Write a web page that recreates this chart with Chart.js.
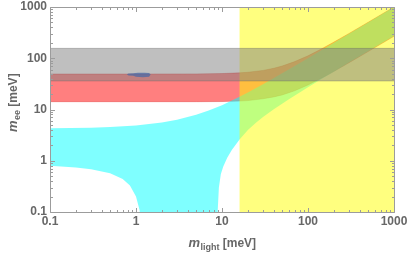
<!DOCTYPE html>
<html><head><meta charset="utf-8">
<script src="https://cdn.jsdelivr.net/npm/chart.js@4.4.1/dist/chart.umd.min.js"></script>
<style>html,body{margin:0;padding:0;background:#fff;}canvas{display:block;}</style>
</head><body>
<canvas id="c" width="409" height="253" style="width:409px;height:253px"></canvas>
<script>
// ---- axis ticks ----
const xTickValues = [0.1, 1, 10, 100, 1000];
const xTickLabels = ['0.1', '1', '10', '100', '1000'];
const yTickValues = [0.1, 1, 10, 100, 1000];
const yTickLabels = ['0.1', '1', '10', '100', '1000'];

// ---- normal ordering band (cyan), m_light [meV] -> m_ee [meV] ----
const noUpperM   = [0.05, 0.1, 0.3, 0.5, 1, 2, 3, 5, 7, 10, 13, 16, 20, 30, 50, 70, 100, 200, 500, 1000, 1200];
const noUpperMee = [4.25, 4.29, 4.41, 4.55, 4.88, 5.57, 6.3, 7.86, 9.51, 12.1, 14.9, 17.7, 21.5, 31.1, 50.8, 70.6, 100.4, 200.2, 500, 1000, 1200];
const noLowerM   = [0.05, 0.1, 0.2, 0.3, 0.5, 0.7, 0.85, 1.0, 1.1, 1.15, 1.2,
                    8.8, 8.9, 9.2, 9.7, 10.35, 11.5, 13, 16, 20, 25, 30, 40, 50, 60, 80, 100, 150, 200, 300, 500, 700, 1000, 1200];
const noLowerMee = [0.84, 0.8, 0.74, 0.68, 0.57, 0.44, 0.33, 0.2, 0.11, 0.06, 0.001,
                    0.001, 0.1, 0.3, 0.55, 0.77, 1.15, 1.62, 2.6, 4.0, 5.6, 7.1, 10.1, 13.0, 15.8, 21.4, 27.1, 41.0, 54.8, 82.4, 137, 192, 272, 326];

// ---- inverted ordering band (red) ----
const ioUpperM   = [0.05, 1, 5, 10, 16, 20, 30, 40, 50, 70, 100, 150, 200, 300, 500, 1000, 1200];
const ioUpperMee = [49.3, 49.3, 49.5, 50.3, 51.9, 53.3, 57.9, 63.8, 70.5, 86.0, 111.8, 158.2, 206.4, 304.3, 502.6, 1001.3, 1201];
const ioLowerM   = [0.05, 1, 5, 10, 16, 20, 30, 40, 50, 70, 100, 150, 200, 300, 500, 1000, 1200];
const ioLowerMee = [14.2, 14.2, 14.2, 14.3, 14.6, 14.9, 16.2, 17.6, 19.2, 23.2, 30.1, 42.6, 55.5, 81.8, 135, 269, 323];

// ---- excluded m_light region (yellow) and experimental m_ee band (gray) ----
const yellowFromM = 16;
const grayBandMee = [36, 156];

// ---- small fit region (blue) ----
const blobM   = [0.78, 0.82, 0.93, 1.05, 1.25, 1.42, 1.48, 1.42, 1.2, 1.0, 0.93, 0.82, 0.78];
const blobMee = [48.5, 50.5, 51.0, 52.0, 52.2, 51.5, 48.0, 43.5, 42.5, 43.5, 45.5, 46.0, 48.5];

const LO = 1e-3, HI = 1e4;
function pts(xs, ys) { return xs.map((x, i) => ({x: x, y: ys[i]})); }
function band(uM, uV, lM, lV) {
  return pts(uM, uV).concat(pts(lM, lV).reverse());
}
function rect(x0, x1, y0, y1) {
  return [{x: x0, y: y0}, {x: x0, y: y1}, {x: x1, y: y1}, {x: x1, y: y0}, {x: x0, y: y0}];
}

const common = {showLine: true, pointRadius: 0, pointHoverRadius: 0, fill: 'shape', tension: 0};

const ds = [
  Object.assign({}, common, {label: 'IO', data: band(ioUpperM, ioUpperMee, ioLowerM, ioLowerMee),
    backgroundColor: 'rgba(255,0,0,0.5)', borderColor: 'rgba(210,0,0,0.3)', borderWidth: 1, order: 10}),
  Object.assign({}, common, {label: 'NO', data: band(noUpperM, noUpperMee, noLowerM, noLowerMee),
    backgroundColor: 'rgba(0,255,255,0.5)', borderColor: 'rgba(0,0,0,0)', borderWidth: 0, order: 9}),
  Object.assign({}, common, {label: 'excluded', data: rect(yellowFromM, HI, LO, HI),
    backgroundColor: 'rgba(255,255,0,0.5)', borderColor: 'rgba(0,0,0,0)', borderWidth: 0, order: 8}),
  Object.assign({}, common, {label: 'band', data: rect(LO, HI, grayBandMee[0], grayBandMee[1]),
    backgroundColor: 'rgba(128,128,128,0.5)', borderColor: 'rgba(90,90,90,0.3)', borderWidth: 1, order: 7}),
  Object.assign({}, common, {label: 'fit', data: pts(blobM, blobMee),
    backgroundColor: 'rgba(75,105,165,0.75)', borderColor: 'rgba(0,0,0,0)', borderWidth: 0, order: 1})
];

const tickFont = {family: '"Liberation Sans", Arial, sans-serif', size: 12, weight: 'bold'};
const labelColor = '#676767';
const frameColor = '#9c9c9c';

const framePlugin = {
  id: 'frame',
  afterDatasetsDraw(chart) {
    const {ctx, chartArea: a, scales: {x, y}} = chart;
    ctx.save();
    ctx.strokeStyle = frameColor;
    ctx.lineWidth = 1;
    const L = a.left + 0.5, R = a.right + 0.5, T = a.top + 0.5, B = a.bottom + 0.5;
    ctx.beginPath();
    ctx.rect(L, T, R - L, B - T);
    ctx.stroke();
    ctx.beginPath();
    for (let d = 0; d < 4; d++) {
      const base = xTickValues[d];
      for (let k = 1; k <= 10; k++) {
        const v = base * k;
        const major = (k === 1 || k === 10);
        const len = major ? 4.5 : 2.5;
        const px = Math.round(x.getPixelForValue(v)) + 0.5;
        ctx.moveTo(px, B); ctx.lineTo(px, B - len);
        ctx.moveTo(px, T); ctx.lineTo(px, T + len);
        const py = Math.round(y.getPixelForValue(v)) + 0.5;
        ctx.moveTo(L, py); ctx.lineTo(L + len, py);
        ctx.moveTo(R, py); ctx.lineTo(R - len, py);
      }
    }
    ctx.stroke();
    ctx.restore();
  },
  afterDraw(chart) {
    const {ctx, chartArea: a} = chart;
    ctx.save();
    ctx.fillStyle = labelColor;
    ctx.textBaseline = 'alphabetic';
    const fm = 'italic bold 13px "Liberation Sans", Arial, sans-serif';
    const fs = 'bold 9px "Liberation Sans", Arial, sans-serif';
    const fn = 'bold 12px "Liberation Sans", Arial, sans-serif';
    function drawTitle(sub, cx, baseY) {
      ctx.font = fm; const w1 = ctx.measureText('m').width;
      ctx.font = fs; const w2 = ctx.measureText(sub).width;
      ctx.font = fn; const w3 = ctx.measureText(' [meV]').width;
      let x0 = cx - (w1 + w2 + w3) / 2;
      ctx.font = fm; ctx.fillText('m', x0, baseY); x0 += w1 + 0.5;
      ctx.font = fs; ctx.fillText(sub, x0, baseY + 3); x0 += w2;
      ctx.font = fn; ctx.fillText(' [meV]', x0, baseY);
    }
    drawTitle('light', (a.left + a.right) / 2, 247);
    ctx.translate(16.5, 103);
    ctx.rotate(-Math.PI / 2);
    drawTitle('ee', 0, 0);
    ctx.restore();
  }
};

new Chart(document.getElementById('c'), {
  type: 'scatter',
  data: {datasets: ds},
  options: {
    responsive: false,
    animation: false,
    devicePixelRatio: 1,
    layout: {padding: {top: 7, right: 15, left: 0, bottom: 0}},
    plugins: {legend: {display: false}, tooltip: {enabled: false}},
    scales: {
      x: {
        type: 'logarithmic', position: 'bottom', min: 0.1, max: 1000,
        grid: {display: false, drawTicks: false}, border: {display: false},
        afterBuildTicks: (s) => { s.ticks = xTickValues.map(v => ({value: v})); },
        afterFit: (s) => { s.height = 41; s.paddingLeft = 0; s.paddingRight = 0; },
        ticks: {autoSkip: false, maxRotation: 0, padding: 2, font: tickFont, color: labelColor,
          callback: (v, i) => xTickLabels[i]}
      },
      y: {
        type: 'logarithmic', position: 'left', min: 0.1, max: 1000,
        grid: {display: false, drawTicks: false}, border: {display: false},
        afterBuildTicks: (s) => { s.ticks = yTickValues.map(v => ({value: v})); },
        afterFit: (s) => { s.width = 50; s.paddingTop = 0; s.paddingBottom = 0; },
        ticks: {autoSkip: false, padding: 3, font: tickFont, color: labelColor,
          callback: (v, i) => yTickLabels[i]}
      }
    }
  },
  plugins: [framePlugin]
});
</script>
</body></html>
